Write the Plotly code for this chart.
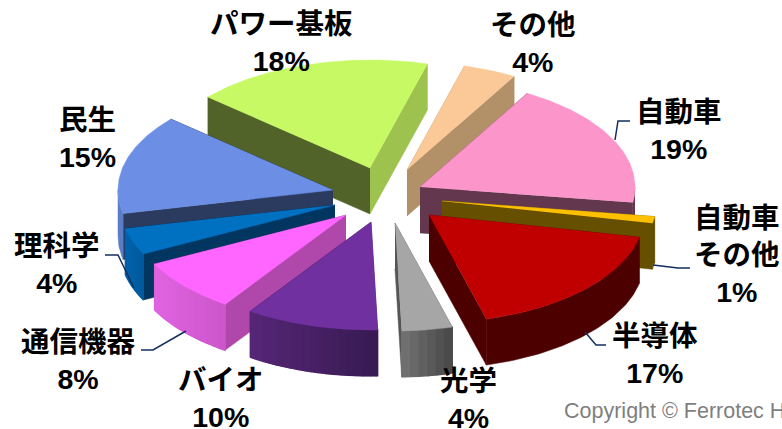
import plotly.graph_objects as go
import numpy as np

# Data, clockwise starting at the その他 slice (shares)
categories = ["その他", "自動車", "自動車<br>その他", "半導体", "光学", "バイオ", "通信機器", "理科学", "民生", "パワー基板"]
values = [4.0, 19.0, 1.0, 17.4, 3.8, 10.0, 8.0, 4.0, 14.9, 17.9]

# Styling
top_colors = ["#FBC897", "#FC96CA", "#FFC000", "#C00000", "#A6A6A6", "#7030A0", "#FF66FF", "#0070C0", "#6C8EE4", "#C6F963"]
wall_start = ["#B29068", "#63384F", "#665000", "#4D0000", "#5A5A5A", "#3F1C5C", "#B048AC", "#003660", "#2B3B60", "#52632A"]
wall_end = ["#B29068", "#63384F", "#665000", "#4D0000", "#555555", "#3F1C5C", "#B048AC", "#003660", "#2B3B60", "#9DC24E"]
outer_left = ["#B29068", "#63384F", "#665000", "#4D0000", "#737373", "#552676", "#E163E1", "#0062AC", "#5B7DC8", "#52632A"]
outer_right = ["#B29068", "#63384F", "#665000", "#4D0000", "#474747", "#381A52", "#CB56CB", "#005A9C", "#5B7DC8", "#52632A"]
explode_dx = [29, 42, 64, 51, 17, -7, -32, -43, -45, -8]
explode_dy = [-30, -13, 1, 15, 23, 22, 15, 5, -10, -32]
draw_order = [9, 0, 8, 7, 6, 5, 1, 2, 3, 4]
label_x = [533, 679, 737, 655, 468, 221, 78, 57, 87, 281]
label_y = [43, 130, 255, 354, 399, 398, 360, 264, 138, 42]
leader_x = [[615, 618, 630], [653, 678, 690], [585, 596, 606], [186, 153, 141], [105, 118, 134]]
leader_y = [[140, 121, 121], [265, 268, 268], [332, 345, 345], [331, 350, 350], [255, 255, 288]]

CX, CY, RX, RY, DEPTH = 378, 200, 215, 108, 46
START_ANGLE = 15.5


def xy(t, cx, cy):
    r = np.radians(t)
    return cx + RX * np.sin(r), cy - RY * np.cos(r)


def poly(fig, xs, ys, color, lw=0.5):
    fig.add_trace(go.Scatter(
        x=list(xs), y=list(ys), mode="lines", fill="toself", fillcolor=color,
        line=dict(color=color, width=lw), hoverinfo="skip", showlegend=False,
    ))


def blend(c1, c2, f):
    a = [int(c1[i:i + 2], 16) for i in (1, 3, 5)]
    b = [int(c2[i:i + 2], 16) for i in (1, 3, 5)]
    return "#%02X%02X%02X" % tuple(round(p + (q - p) * f) for p, q in zip(a, b))


fig = go.Figure()
angles = START_ANGLE + np.concatenate([[0], np.cumsum(values)]) * 360.0 / sum(values)

for i in draw_order:
    t0, t1 = angles[i], angles[i + 1]
    ax, ay = CX + explode_dx[i], CY + explode_dy[i]
    sx, sy = xy(t0, ax, ay)
    ex, ey = xy(t1, ax, ay)
    faces = [
        ((ay + sy) / 2, [ax, sx, sx, ax], [ay, sy, sy + DEPTH, ay + DEPTH], wall_start[i]),
        ((ay + ey) / 2, [ax, ex, ex, ax], [ay, ey, ey + DEPTH, ay + DEPTH], wall_end[i]),
    ]
    for _, fx, fy, col in sorted(faces, key=lambda f: f[0]):
        poly(fig, fx, fy, col)
    # outer rim, only the part that faces the viewer
    lo, hi = max(t0, 90), min(t1, 270)
    if hi > lo:
        ts = np.linspace(lo, hi, int(hi - lo) + 2)
        pts = [xy(t, ax, ay) for t in ts]
        px, py = [p[0] for p in pts], [p[1] for p in pts]
        poly(fig, px + px[::-1], py + [v + DEPTH for v in py[::-1]], outer_left[i])
        if outer_left[i] != outer_right[i]:
            # shading: strips painted left to right over one another
            n = max(1, int((hi - lo) / 2))
            edges = np.linspace(lo, hi, n + 1)[::-1]
            xa = xy(hi, ax, ay)[0]
            xb = xy(lo, ax, ay)[0]
            for k in range(n):
                x0, y0 = xy(edges[k], ax, ay)
                x1, y1 = xy(edges[k + 1], ax, ay)
                f = ((x0 + x1) / 2 - xa) / max(xb - xa, 1)
                poly(fig, [x0, x1, x1, x0], [y0, y1, y1 + DEPTH, y0 + DEPTH],
                     blend(outer_left[i], outer_right[i], f), lw=1.2)
    ts = np.linspace(t0, t1, max(3, int(t1 - t0) + 2))
    arc = [xy(t, ax, ay) for t in ts]
    poly(fig, [ax] + [p[0] for p in arc], [ay] + [p[1] for p in arc], top_colors[i])

for lx, ly in zip(leader_x, leader_y):
    fig.add_trace(go.Scatter(x=lx, y=ly, mode="lines", line=dict(color="#12305E", width=1.5),
                             hoverinfo="skip", showlegend=False))

FONT = "Liberation Sans, Noto Sans CJK JP, sans-serif"
for c, v, x, y in zip(categories, values, label_x, label_y):
    fig.add_annotation(x=x, y=y, text=f"<b>{c}<br>{round(v)}%</b>", showarrow=False, xanchor="center",
                       yanchor="middle", align="center", font=dict(family=FONT, size=28.5, color="#000000"))

fig.add_annotation(x=562, y=411, text="Copyright © Ferrotec H", showarrow=False, xanchor="left",
                   yanchor="middle", font=dict(family="Liberation Sans, sans-serif", size=21.5, color="#7F7F7F"))

fig.update_layout(
    width=782, height=429, margin=dict(l=0, r=0, t=0, b=0),
    paper_bgcolor="#FFFFFF", plot_bgcolor="#FFFFFF", showlegend=False,
    xaxis=dict(range=[0, 782], visible=False, fixedrange=True),
    yaxis=dict(range=[429, 0], visible=False, fixedrange=True),
)
fig.write_html("out.html", config=dict(displayModeBar=False),
               post_script="document.body.style.margin='0';document.documentElement.style.overflow='hidden';")
